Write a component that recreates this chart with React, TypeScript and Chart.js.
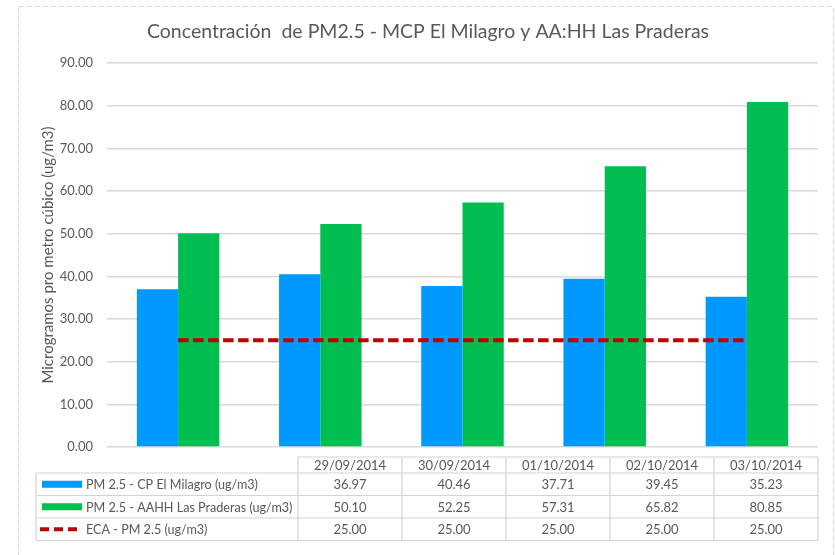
import React, { useEffect, useRef } from "react";
import { Chart, registerables } from "chart.js";

Chart.register(...registerables);

const categories = ["29/09/2014", "30/09/2014", "01/10/2014", "02/10/2014", "03/10/2014"];
const milagro = [36.97, 40.46, 37.71, 39.45, 35.23];
const praderas = [50.1, 52.25, 57.31, 65.82, 80.85];
const eca = [25.0, 25.0, 25.0, 25.0, 25.0];

const seriesNames = [
  "PM 2.5 - CP El Milagro (ug/m3)",
  "PM 2.5 - AAHH Las Praderas (ug/m3)",
  "ECA - PM 2.5 (ug/m3)",
];

const titleText = "Concentración  de PM2.5 - MCP El Milagro y AA:HH Las Praderas";
const yTitleText = "Microgramos pro metro cúbico (ug/m3)";

const yMin = 0;
const yMax = 90;
const yStep = 10;

const BLUE = "#0099FF";
const GREEN = "#00BF50";
const RED = "#C00000";
const TEXT = "#595959";
const GRID = "#D9D9D9";
const FONT = "Lato, 'Open Sans', sans-serif";

// Title, axis title, frame and the data table under the plot
const decorPlugin = {
  id: "decor",
  beforeDraw(chart: any) {
    const ctx = chart.ctx;
    ctx.save();
    ctx.fillStyle = "#ffffff";
    ctx.fillRect(0, 0, chart.width, chart.height);
    ctx.restore();
  },
  afterDraw(chart: any) {
    const ctx: CanvasRenderingContext2D = chart.ctx;
    const area = chart.chartArea;
    ctx.save();

    // dashed outer frame
    ctx.strokeStyle = GRID;
    ctx.lineWidth = 1;
    ctx.setLineDash([5, 3]);
    ctx.strokeRect(18.5, 6.5, 815, 600);
    ctx.setLineDash([]);

    // chart title
    ctx.fillStyle = TEXT;
    ctx.font = `19.5px ${FONT}`;
    ctx.textAlign = "center";
    ctx.textBaseline = "middle";
    ctx.fillText(titleText, 428, 32);

    // y-axis title
    ctx.save();
    ctx.translate(48, (area.top + area.bottom) / 2);
    ctx.rotate(-Math.PI / 2);
    ctx.font = `15px ${FONT}`;
    ctx.fillText(yTitleText, 0, 0);
    ctx.restore();

    // data table
    const tableLeft = 36;
    const dataLeft = 298;
    const right = area.right;
    const headTop = 457;
    const headBottom = 473;
    const rowH = 22.5;
    const n = categories.length;
    const colW = (right - dataLeft) / n;
    const tableBottom = headBottom + rowH * 3;

    ctx.strokeStyle = "#D4D4D4";
    ctx.lineWidth = 1.2;
    ctx.beginPath();
    ctx.moveTo(dataLeft, headTop);
    ctx.lineTo(right, headTop);
    for (let r = 0; r <= 3; r++) {
      const y = headBottom + r * rowH;
      ctx.moveTo(tableLeft, y);
      ctx.lineTo(right, y);
    }
    ctx.moveTo(tableLeft, headBottom);
    ctx.lineTo(tableLeft, tableBottom);
    for (let c = 0; c <= n; c++) {
      const x = dataLeft + c * colW;
      ctx.moveTo(x, headTop);
      ctx.lineTo(x, tableBottom);
    }
    ctx.stroke();

    ctx.fillStyle = TEXT;
    ctx.font = `13px ${FONT}`;
    ctx.textAlign = "center";
    ctx.textBaseline = "middle";
    categories.forEach((cat, i) => {
      ctx.fillText(cat, dataLeft + colW * (i + 0.5), (headTop + headBottom) / 2 + 1);
    });

    const rows = [milagro, praderas, eca];
    rows.forEach((vals, r) => {
      const cy = headBottom + rowH * (r + 0.5) + 1;
      ctx.font = `13px ${FONT}`;
      vals.forEach((v, i) => {
        ctx.fillStyle = TEXT;
        ctx.textAlign = "center";
        ctx.fillText(v.toFixed(2), dataLeft + colW * (i + 0.5), cy);
      });
      // legend key
      const ky = headBottom + rowH * (r + 0.5);
      if (r < 2) {
        ctx.fillStyle = r === 0 ? BLUE : GREEN;
        ctx.fillRect(42, ky - 3.5, 40, 7);
      } else {
        ctx.strokeStyle = RED;
        ctx.lineWidth = 4;
        ctx.setLineDash([9, 5]);
        ctx.beginPath();
        ctx.moveTo(40, ky);
        ctx.lineTo(81, ky);
        ctx.stroke();
        ctx.setLineDash([]);
      }
      ctx.fillStyle = TEXT;
      ctx.textAlign = "left";
      ctx.font = `12.6px ${FONT}`;
      ctx.fillText(seriesNames[r], 86, cy);
    });

    ctx.restore();
  },
};

export default function App() {
  const canvasRef = useRef<HTMLCanvasElement | null>(null);

  useEffect(() => {
    const canvas = canvasRef.current;
    if (!canvas) return;
    const chart = new Chart(canvas, {
      type: "bar",
      data: {
        labels: categories,
        datasets: [
          {
            type: "line",
            label: seriesNames[2],
            data: eca,
            borderColor: RED,
            borderWidth: 4,
            borderDash: [10.5, 4.5],
            pointRadius: 0,
            fill: false,
            order: 0,
          } as any,
          {
            label: seriesNames[0],
            data: milagro,
            backgroundColor: BLUE,
            categoryPercentage: 0.58,
            barPercentage: 1,
            order: 1,
          },
          {
            label: seriesNames[1],
            data: praderas,
            backgroundColor: GREEN,
            categoryPercentage: 0.58,
            barPercentage: 1,
            order: 2,
          },
        ],
      },
      options: {
        responsive: false,
        animation: false,
        devicePixelRatio: 1,
        layout: { padding: { left: 20, right: 17, top: 63, bottom: 108 } },
        plugins: {
          legend: { display: false },
          title: { display: false },
          tooltip: { enabled: false },
        },
        scales: {
          x: { display: false, offset: true },
          y: {
            min: yMin,
            max: yMax,
            border: { display: false },
            grid: { color: GRID, lineWidth: 1.5, drawTicks: false },
            ticks: {
              stepSize: yStep,
              padding: 14,
              color: TEXT,
              font: { family: FONT, size: 13 },
              callback: (v: any) => Number(v).toFixed(2),
            },
            afterFit: (scale: any) => {
              scale.width = 87;
            },
          },
        },
      },
      plugins: [decorPlugin],
    });
    return () => chart.destroy();
  }, []);

  return (
    <div style={{ position: "fixed", left: 0, top: 0, width: 835, height: 555, background: "#fff" }}>
      <canvas ref={canvasRef} width={835} height={555} style={{ display: "block" }} />
    </div>
  );
}
